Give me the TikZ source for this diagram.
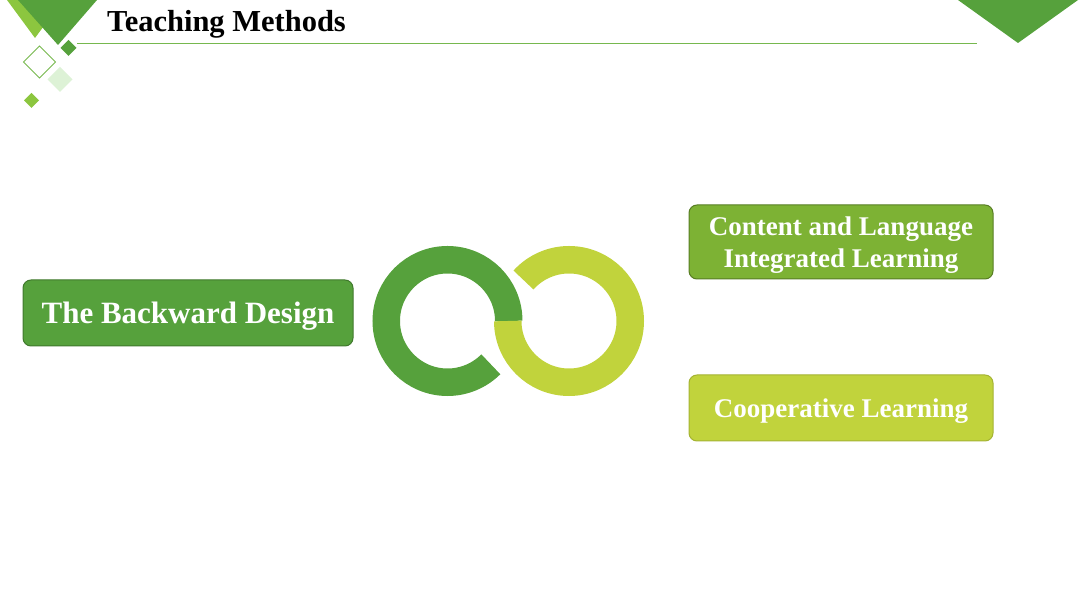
\documentclass[tikz,border=0pt]{standalone}
\usepackage{fontspec}
\setmainfont{Liberation Serif}
\usepackage{xcolor}
\usetikzlibrary{shapes,positioning}

\definecolor{grass}{RGB}{86,161,60}
\definecolor{leaf}{RGB}{140,198,63}
\definecolor{olive}{RGB}{125,178,52}
\definecolor{lime}{RGB}{193,211,60}
\definecolor{mint}{RGB}{221,242,214}
\definecolor{titlerule}{RGB}{118,184,78}

\begin{document}
\begin{tikzpicture}[x=1pt,y=1pt,
  box/.style={draw, rounded corners=8pt, line width=1pt, outer sep=0pt, text=white, align=center, text depth=0pt},
  gem/.style={diamond, inner sep=0pt, outer sep=0pt, minimum width=#1, minimum height=#1},
  ring/.style={line width=27.5pt}]

\useasboundingbox (0,0) rectangle (1080,608);
\coordinate(O1) at (0,0);

% corner triangles
\fill[leaf] (7,608) -- (63,608) -- (35,570) -- cycle;
\fill[grass] (18,608) -- (97,608) -- (58,563) -- cycle;
\fill[grass] (958,608) -- (1078,608) -- (1018,565) -- cycle;

\node[gem=16pt, fill=grass](g1) at (68.5,560) {};
\node[gem=32pt, draw=titlerule, line width=1pt](g2) at (39.5,546) {};
\node[gem=25pt, fill=mint](g3) at (60,528.5) {};
\node[gem=15pt, fill=leaf](g4) at (31.5,507.5) {};

\draw[titlerule, line width=1pt] (77,564.5) -- (977,564.5);
\node[anchor=base west, inner sep=0pt, font=\bfseries\fontsize{30.5}{36}\selectfont](title) at (107,576) {Teaching Methods};

% boxes
\node[above right=262pt and 23pt of O1, box, fill=grass, draw=grass!75!black, minimum width=330pt, minimum height=66pt, font=\bfseries\fontsize{31}{36}\selectfont](bd) {The Backward Design};
\node[above right=329pt and 689pt of O1, box, fill=olive, draw=olive!70!black, minimum width=304pt, minimum height=74pt, font=\bfseries\fontsize{27}{32}\selectfont](clil) {Content and Language\\ Integrated Learning};
\node[above right=167pt and 689pt of O1, box, fill=lime, draw=lime!85!black, minimum width=304pt, minimum height=66pt, font=\bfseries\fontsize{27}{32}\selectfont](cl) {Cooperative Learning};

% infinity loop
\coordinate (lc) at (447.5,287);
\coordinate (rc) at (569,287);
\draw[ring, grass] ([shift={(0:61.25pt)}]lc) arc[start angle=0, end angle=315, radius=61.25pt];
\draw[ring, lime] ([shift={(180:61.25pt)}]rc) arc[start angle=180, end angle=498, radius=61.25pt];
\end{tikzpicture}
\end{document}
